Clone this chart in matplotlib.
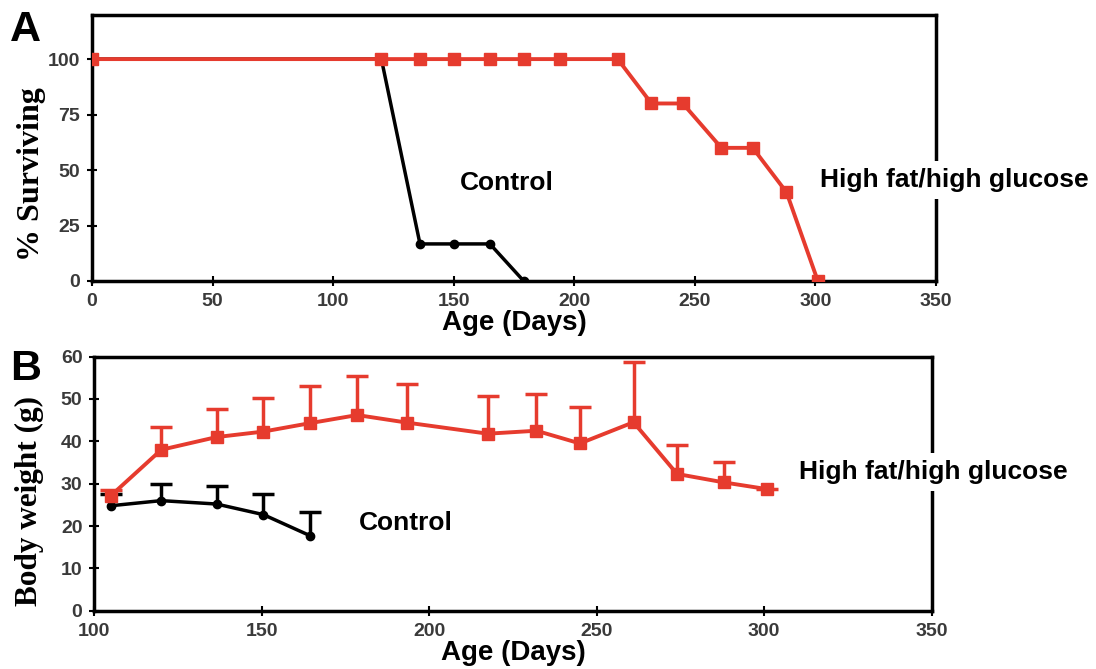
import numpy as np
import matplotlib.pyplot as plt

# Panel A: survival
surv_days_hf = [0, 120, 136, 150, 165, 179, 194, 218, 232, 245, 261, 274, 288, 301]
surv_hf = [100, 100, 100, 100, 100, 100, 100, 100, 80, 80, 60, 60, 40, 0]
surv_days_ctl = [0, 120, 136, 150, 165, 179]
surv_ctl = [100, 100, 16.7, 16.7, 16.7, 0]

# Panel B: body weight (mean and upper error)
bw_days_hf = [105, 120, 136.5, 150.5, 164.5, 178.5, 193.5, 217.5, 232, 245, 261, 274, 288, 301]
bw_hf = [27.2, 38.0, 41.0, 42.3, 44.3, 46.2, 44.4, 41.8, 42.5, 39.5, 44.5, 32.3, 30.3, 28.7]
bw_hf_top = [28.6, 43.3, 47.7, 50.3, 53.0, 55.4, 53.6, 50.6, 51.2, 48.0, 58.8, 39.2, 35.1, 28.7]
bw_days_ctl = [105, 120, 136.5, 150.5, 164.5]
bw_ctl = [24.8, 26.0, 25.2, 22.7, 17.7]
bw_ctl_top = [27.5, 30.0, 29.5, 27.6, 23.4]

RED = '#e63b2e'
sans = 'Liberation Sans'
serif = 'Liberation Serif'

fig = plt.figure(figsize=(10.96, 6.69), dpi=100)
axA = fig.add_axes([0.084, 0.580, 0.770, 0.398])
axB = fig.add_axes([0.086, 0.087, 0.764, 0.380])


def style_axes(ax):
    for s in ax.spines.values():
        s.set_linewidth(2.5)
        s.set_color('black')
    ax.tick_params(direction='inout', length=7, width=1.5, colors='black',
                   labelcolor='#3a3a3a', labelsize=14, pad=5)
    for lab in ax.get_xticklabels() + ax.get_yticklabels():
        lab.set_fontfamily(sans)
        lab.set_fontweight('bold')


def upper_errorbar(ax, x, y, top, color, marker, ms, lw):
    err = [np.zeros(len(y)), np.array(top) - np.array(y)]
    line, caps, bars = ax.errorbar(x, y, yerr=err, color=color, lw=lw, marker=marker,
                                   ms=ms, elinewidth=2.5, capsize=8, capthick=2.5)
    caps[0].set_visible(False)  # one-sided bars: hide the lower caps


# --- A ---
axA.plot(surv_days_ctl, surv_ctl, color='black', lw=2.5, marker='o', ms=6, zorder=2)
axA.plot(surv_days_hf, surv_hf, color=RED, lw=2.8, marker='s', ms=9, zorder=3)
axA.set_xlim(0, 350)
axA.set_ylim(0, 120)
axA.set_xticks(range(0, 351, 50))
axA.set_yticks([0, 25, 50, 75, 100])
style_axes(axA)
axA.set_xlabel('Age (Days)', fontfamily=sans, fontweight='bold', fontsize=20, labelpad=0)
axA.set_ylabel('% Surviving', fontfamily=serif, fontweight='bold', fontsize=23)
axA.yaxis.set_label_coords(-0.054, 0.40)
axA.text(172, 44, 'Control', fontfamily=sans, fontweight='bold', fontsize=19,
         ha='center', va='center', zorder=5,
         bbox=dict(facecolor='white', edgecolor='none', pad=4))
axA.text(302, 45.5, 'High fat/high glucose', fontfamily=sans, fontweight='bold', fontsize=19,
         ha='left', va='center', clip_on=False, zorder=5,
         bbox=dict(facecolor='white', edgecolor='none', pad=5))

# --- B ---
upper_errorbar(axB, bw_days_ctl, bw_ctl, bw_ctl_top, 'black', 'o', 6, 2.5)
upper_errorbar(axB, bw_days_hf, bw_hf, bw_hf_top, RED, 's', 9, 2.8)
axB.set_xlim(100, 350)
axB.set_ylim(0, 60)
axB.set_xticks(range(100, 351, 50))
axB.set_yticks(range(0, 61, 10))
style_axes(axB)
axB.set_xlabel('Age (Days)', fontfamily=sans, fontweight='bold', fontsize=20, labelpad=0)
axB.set_ylabel('Body weight (g)', fontfamily=serif, fontweight='bold', fontsize=22.5)
axB.yaxis.set_label_coords(-0.060, 0.43)
axB.text(179, 20.7, 'Control', fontfamily=sans, fontweight='bold', fontsize=19,
         ha='left', va='center', zorder=5,
         bbox=dict(facecolor='white', edgecolor='none', pad=4))
axB.text(310.5, 32.8, 'High fat/high glucose', fontfamily=sans, fontweight='bold', fontsize=19,
         ha='left', va='center', clip_on=False, zorder=5,
         bbox=dict(facecolor='white', edgecolor='none', pad=5))

fig.text(0.009, 0.955, 'A', fontfamily=sans, fontweight='bold', fontsize=31, va='center')
fig.text(0.009, 0.449, 'B', fontfamily=sans, fontweight='bold', fontsize=31, va='center')

fig.savefig('out.png', dpi=100)
